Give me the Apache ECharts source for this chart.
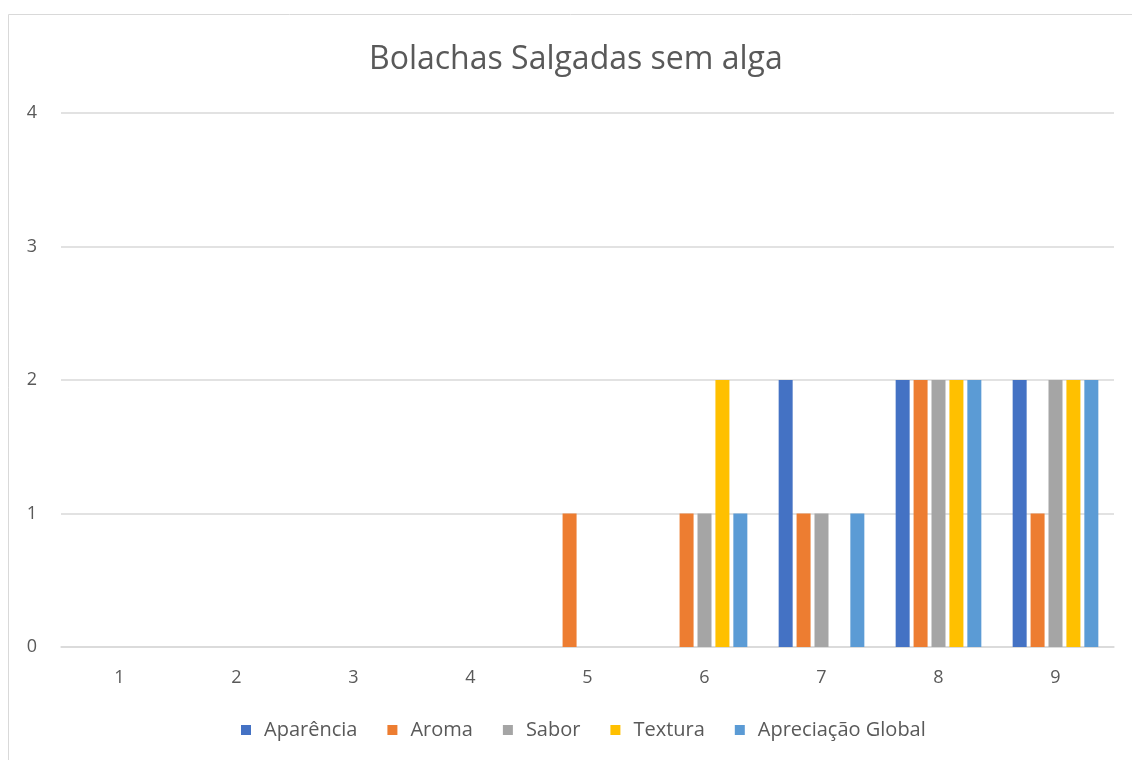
<!DOCTYPE html>
<html>
<head>
<meta charset="utf-8">
<script src="https://cdn.jsdelivr.net/npm/echarts@6/dist/echarts.min.js"></script>
<style>html,body{margin:0;padding:0;background:#fff}#c{width:1132px;height:760px}</style>
</head>
<body>
<div id="c"></div>
<script>
const categories = ['1','2','3','4','5','6','7','8','9'];
const seriesNames = ['Aparência','Aroma','Sabor','Textura','Apreciação Global'];
const aparencia = [0,0,0,0,0,0,2,2,2];
const aroma = [0,0,0,0,1,1,1,2,1];
const sabor = [0,0,0,0,0,1,1,2,2];
const textura = [0,0,0,0,0,2,0,2,2];
const apreciacaoGlobal = [0,0,0,0,0,1,1,2,2];
const colors = ['#4472C4','#ED7D31','#A5A5A5','#FFC000','#5B9BD5'];
const values = [aparencia, aroma, sabor, textura, apreciacaoGlobal];

const chart = echarts.init(document.getElementById('c'));
const font = '"Open Sans", sans-serif';
chart.setOption({
  animation: false,
  color: colors,
  graphic: [{type:'rect', shape:{x:8.5,y:14.5,width:1140,height:760}, style:{fill:'none', stroke:'#d9d9d9', lineWidth:1}}],
  title: {text:'Bolachas Salgadas sem alga', left:364, top:39, textStyle:{fontFamily:font, fontSize:32, fontWeight:'normal', color:'#595959'}},
  legend: {bottom:15, left:236, itemWidth:10, itemHeight:10, itemGap:30, icon:'rect',
    textStyle:{fontFamily:font, fontSize:20, color:'#595959', padding:[0,0,0,8]}},
  grid: {left:61, right:18, top:113, bottom:113},
  xAxis: {type:'category', data:categories, axisTick:{show:false},
    axisLine:{lineStyle:{color:'#d9d9d9', width:1.5}},
    axisLabel:{fontFamily:font, fontSize:18, color:'#595959', margin:22}},
  yAxis: {type:'value', min:0, max:4, interval:1,
    splitLine:{lineStyle:{color:'#d9d9d9', width:1.5}},
    axisLabel:{fontFamily:font, fontSize:18, color:'#595959', margin:24}},
  series: seriesNames.map((n,i)=>({name:n, type:'bar', data:values[i], barWidth:14, barGap:'28%'}))
});
</script>
</body>
</html>
